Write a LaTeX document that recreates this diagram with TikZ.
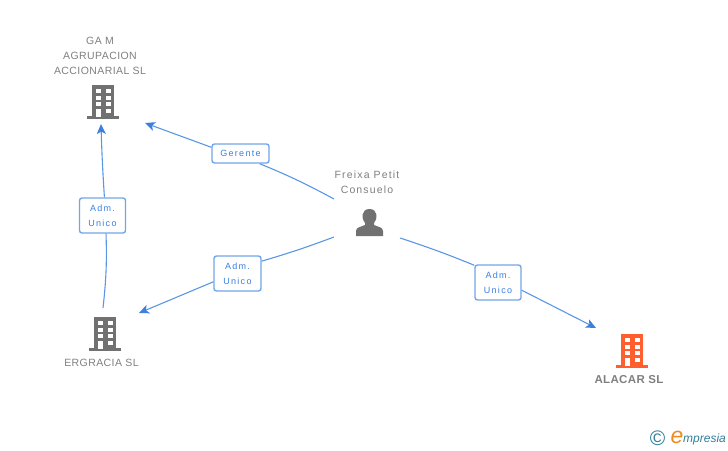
\documentclass[tikz,border=0pt]{standalone}
\usepackage{fontspec}
\setmainfont{Liberation Sans}
\usetikzlibrary{arrows.meta}
\definecolor{linkblue}{HTML}{5A96E6}
\definecolor{tipblue}{HTML}{3B80DE}
\definecolor{boxblue}{HTML}{74A5E8}
\definecolor{textblue}{HTML}{3A7FE0}
\definecolor{namegray}{HTML}{7F7F7F}
\definecolor{icongray}{HTML}{717171}
\definecolor{iconorange}{HTML}{FF5F2E}
\definecolor{logoteal}{HTML}{2F7F9B}
\definecolor{logoorange}{HTML}{F08A1D}
\newfontfamily\capsfont[LetterSpace=4]{Liberation Sans}
\newfontfamily\spacedfont[LetterSpace=11]{Liberation Sans}
\newfontfamily\boldfont[LetterSpace=3]{Liberation Sans Bold}
\newfontfamily\boxfont[LetterSpace=14]{Liberation Sans}
\tikzset{
  link/.style={linkblue,line width=1.1pt},
  linkend/.style={link,-{Stealth[length=10pt,width=9pt,inset=2.5pt,color=tipblue]}},
  rolebox/.style={draw=boxblue,line width=1.4pt,rounded corners=2.5pt,fill=white,
    text=textblue,font=\boxfont\fontsize{9}{15}\selectfont,align=center,inner sep=0pt},
  entity/.style={text=namegray,font=\capsfont\fontsize{10.5}{15}\selectfont,align=center,inner sep=0pt},
  building/.pic={
    \fill[pic actions] (-11,0) rectangle (11,32);
    \fill[pic actions] (-16,31) rectangle (16,34);
    \foreach \y in {4,10.7,17.3}{
      \fill[white] (-7,\y) rectangle (-2,\y+4);
      \fill[white] (2.5,\y) rectangle (7.5,\y+4);
    }
    \fill[white] (2.5,24) rectangle (7.5,28);
    \fill[white] (-7,24) rectangle (-2,32);
  }
}
\begin{document}
\begin{tikzpicture}[x=1pt,y=-1pt]
  \useasboundingbox (0,0) rectangle (728,450);
  % buildings
  \pic[icongray] at (103,85) {building};
  \pic[icongray] at (105,317) {building};
  \pic[iconorange] at (632,334) {building};
  % person
  \fill[icongray] (356,236) -- (356,231) .. controls (356,227) and (361,227) .. (365,225)
    -- (365,223) .. controls (361,219) and (361,209) .. (369.5,209)
    .. controls (378,209) and (378,219) .. (374,223) -- (374,225)
    .. controls (378,227) and (383,227) .. (383,231) -- (383,236) -- cycle;
  % names
  \node[entity] (gam) at (100,56) {GA M\\AGRUPACION\\ACCIONARIAL SL};
  \node[entity] (ergracia) at (101.5,363) {ERGRACIA SL};
  \node[entity,font=\boldfont\fontsize{11.5}{15}\selectfont] (alacar) at (629,380) {ALACAR SL};
  \node[entity,font=\spacedfont\fontsize{10.5}{15}\selectfont] (freixa) at (367,182.5) {Freixa Petit\\Consuelo};
  % role boxes
  \node[rolebox,minimum width=57pt,minimum height=19pt] (gerente) at (240.5,153.5) {Gerente};
  \node[rolebox,minimum width=46pt,minimum height=35pt] (admgam) at (102.5,215.5) {Adm.\hspace{3pt}\\Unico};
  \node[rolebox,minimum width=47pt,minimum height=35pt] (admerg) at (237.5,273.5) {Adm.\hspace{3pt}\\Unico};
  \node[rolebox,minimum width=46pt,minimum height=35pt] (admala) at (498,282.5) {Adm.\hspace{3pt}\\Unico};
  % free ends
  \coordinate (pa) at (334,199);
  \coordinate (pb) at (334,237);
  \coordinate (pc) at (400,238);
  \coordinate (ga) at (145,123);
  \coordinate (gb) at (101,124);
  \coordinate (ea) at (139,313);
  \coordinate (eb) at (103,308);
  \coordinate (aa) at (596,328);
  % connectors
  \draw[link] (pa) to[bend right=3] (gerente.-28);
  \draw[linkend] (gerente.168) -- (ga);
  \draw[link] (eb) to[bend right=4] (admgam.-79);
  \draw[linkend] (admgam.84) to[bend left=1] (gb);
  \draw[link] (pb) to[bend left=2] (admerg.27);
  \draw[linkend] (admerg.199) -- (ea);
  \draw[link] (pc) to[bend left=2] (admala.144);
  \draw[linkend] (admala.-18) -- (aa);
  % logo
  \node[text=logoteal,font=\fontsize{21}{21}\selectfont,inner sep=0pt] (copy) at (657.5,438) {\textcopyright};
  \node[text=logoorange,font=\itshape\fontsize{23}{23}\selectfont,inner sep=0pt] (logoe) at (677,437) {e};
  \node[text=logoteal,font=\itshape\fontsize{12}{12}\selectfont,inner sep=0pt,anchor=west] (logotext) at (683,439) {mpresia};
\end{tikzpicture}
\end{document}
